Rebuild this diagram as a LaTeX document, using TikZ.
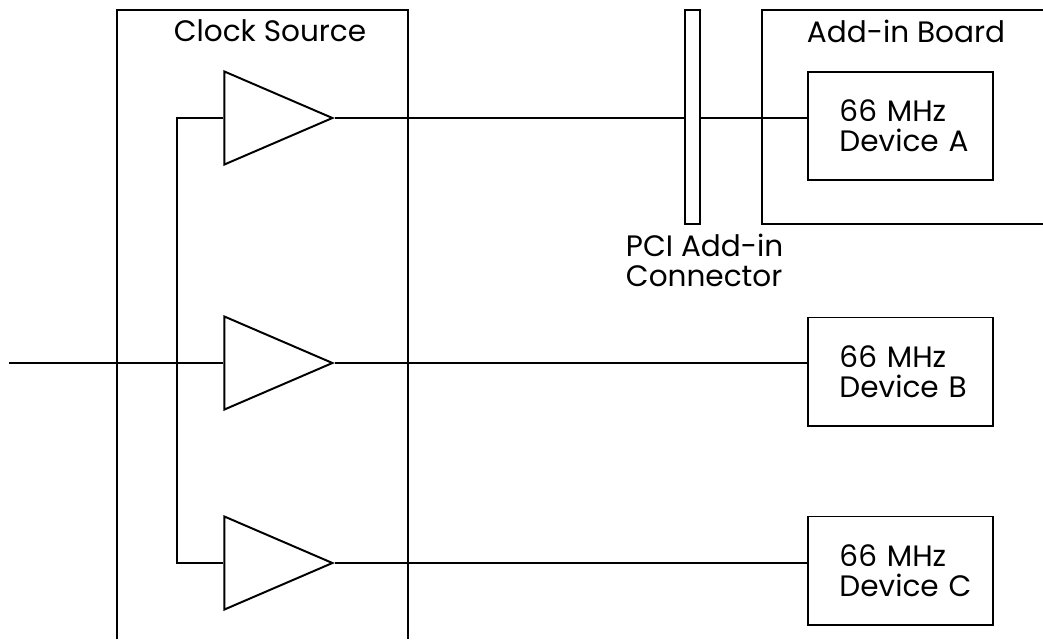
\documentclass[tikz,border=0pt]{standalone}
\usepackage{fontspec}
\setmainfont{Poppins}
\usetikzlibrary{shapes.geometric}

\begin{document}
\begin{tikzpicture}[
  x=0.025cm, y=-0.025cm,
  font=\fontsize{21}{21.5}\selectfont,
  line width=1.4pt,
  buf/.style={isosceles triangle, draw, isosceles triangle stretches,
              shape border rotate=0, minimum width=2.325cm, minimum height=2.7cm,
              inner sep=0pt},
  dev/.style={rectangle, draw, minimum width=4.625cm, minimum height=2.7cm,
              text width=3.05cm, align=left, inner sep=0pt},
  conn/.style={rectangle, draw, fill=white, minimum width=0.375cm,
               minimum height=5.35cm, inner sep=0pt},
  lbl/.style={inner sep=0pt, align=left}
]
\useasboundingbox (0,0) rectangle (1043,639);
% clock source and add-in board outlines
\draw (117,639) |- (408,10) -- (408,639);
\draw (1043,10) -| (762,224) -- (1043,224);
\node[lbl] (clklbl) at (270,31)  {Clock Source};
\node[lbl] (brdlbl) at (906,31)  {Add-in Board};

\node[buf] (buf1) at (255,118) {};
\node[buf] (buf2) at (255,363) {};
\node[buf] (buf3) at (255,563) {};

\node[dev] (devA) at (900.5,126)   {66~MHz\\Device~A};
\node[dev] (devB) at (900.5,371.5) {66~MHz\\Device~B};
\node[dev] (devC) at (900.5,570.5) {66~MHz\\Device~C};

\coordinate (clkin) at (9,363);
\draw (clkin) -- (buf2.west);
\draw (buf1.west) -- ++(-46,0) |- (buf3.west);
\draw (buf1.east) -- (buf1.east -| devA.west);
\draw (buf2.east) -- (buf2.east -| devB.west);
\draw (buf3.east) -- (buf3.east -| devC.west);

\node[conn] (conn) at (692.5,117) {};
\node[lbl, anchor=north west] (connlbl) at (625,233) {PCI Add-in\\Connector};
\end{tikzpicture}
\end{document}
